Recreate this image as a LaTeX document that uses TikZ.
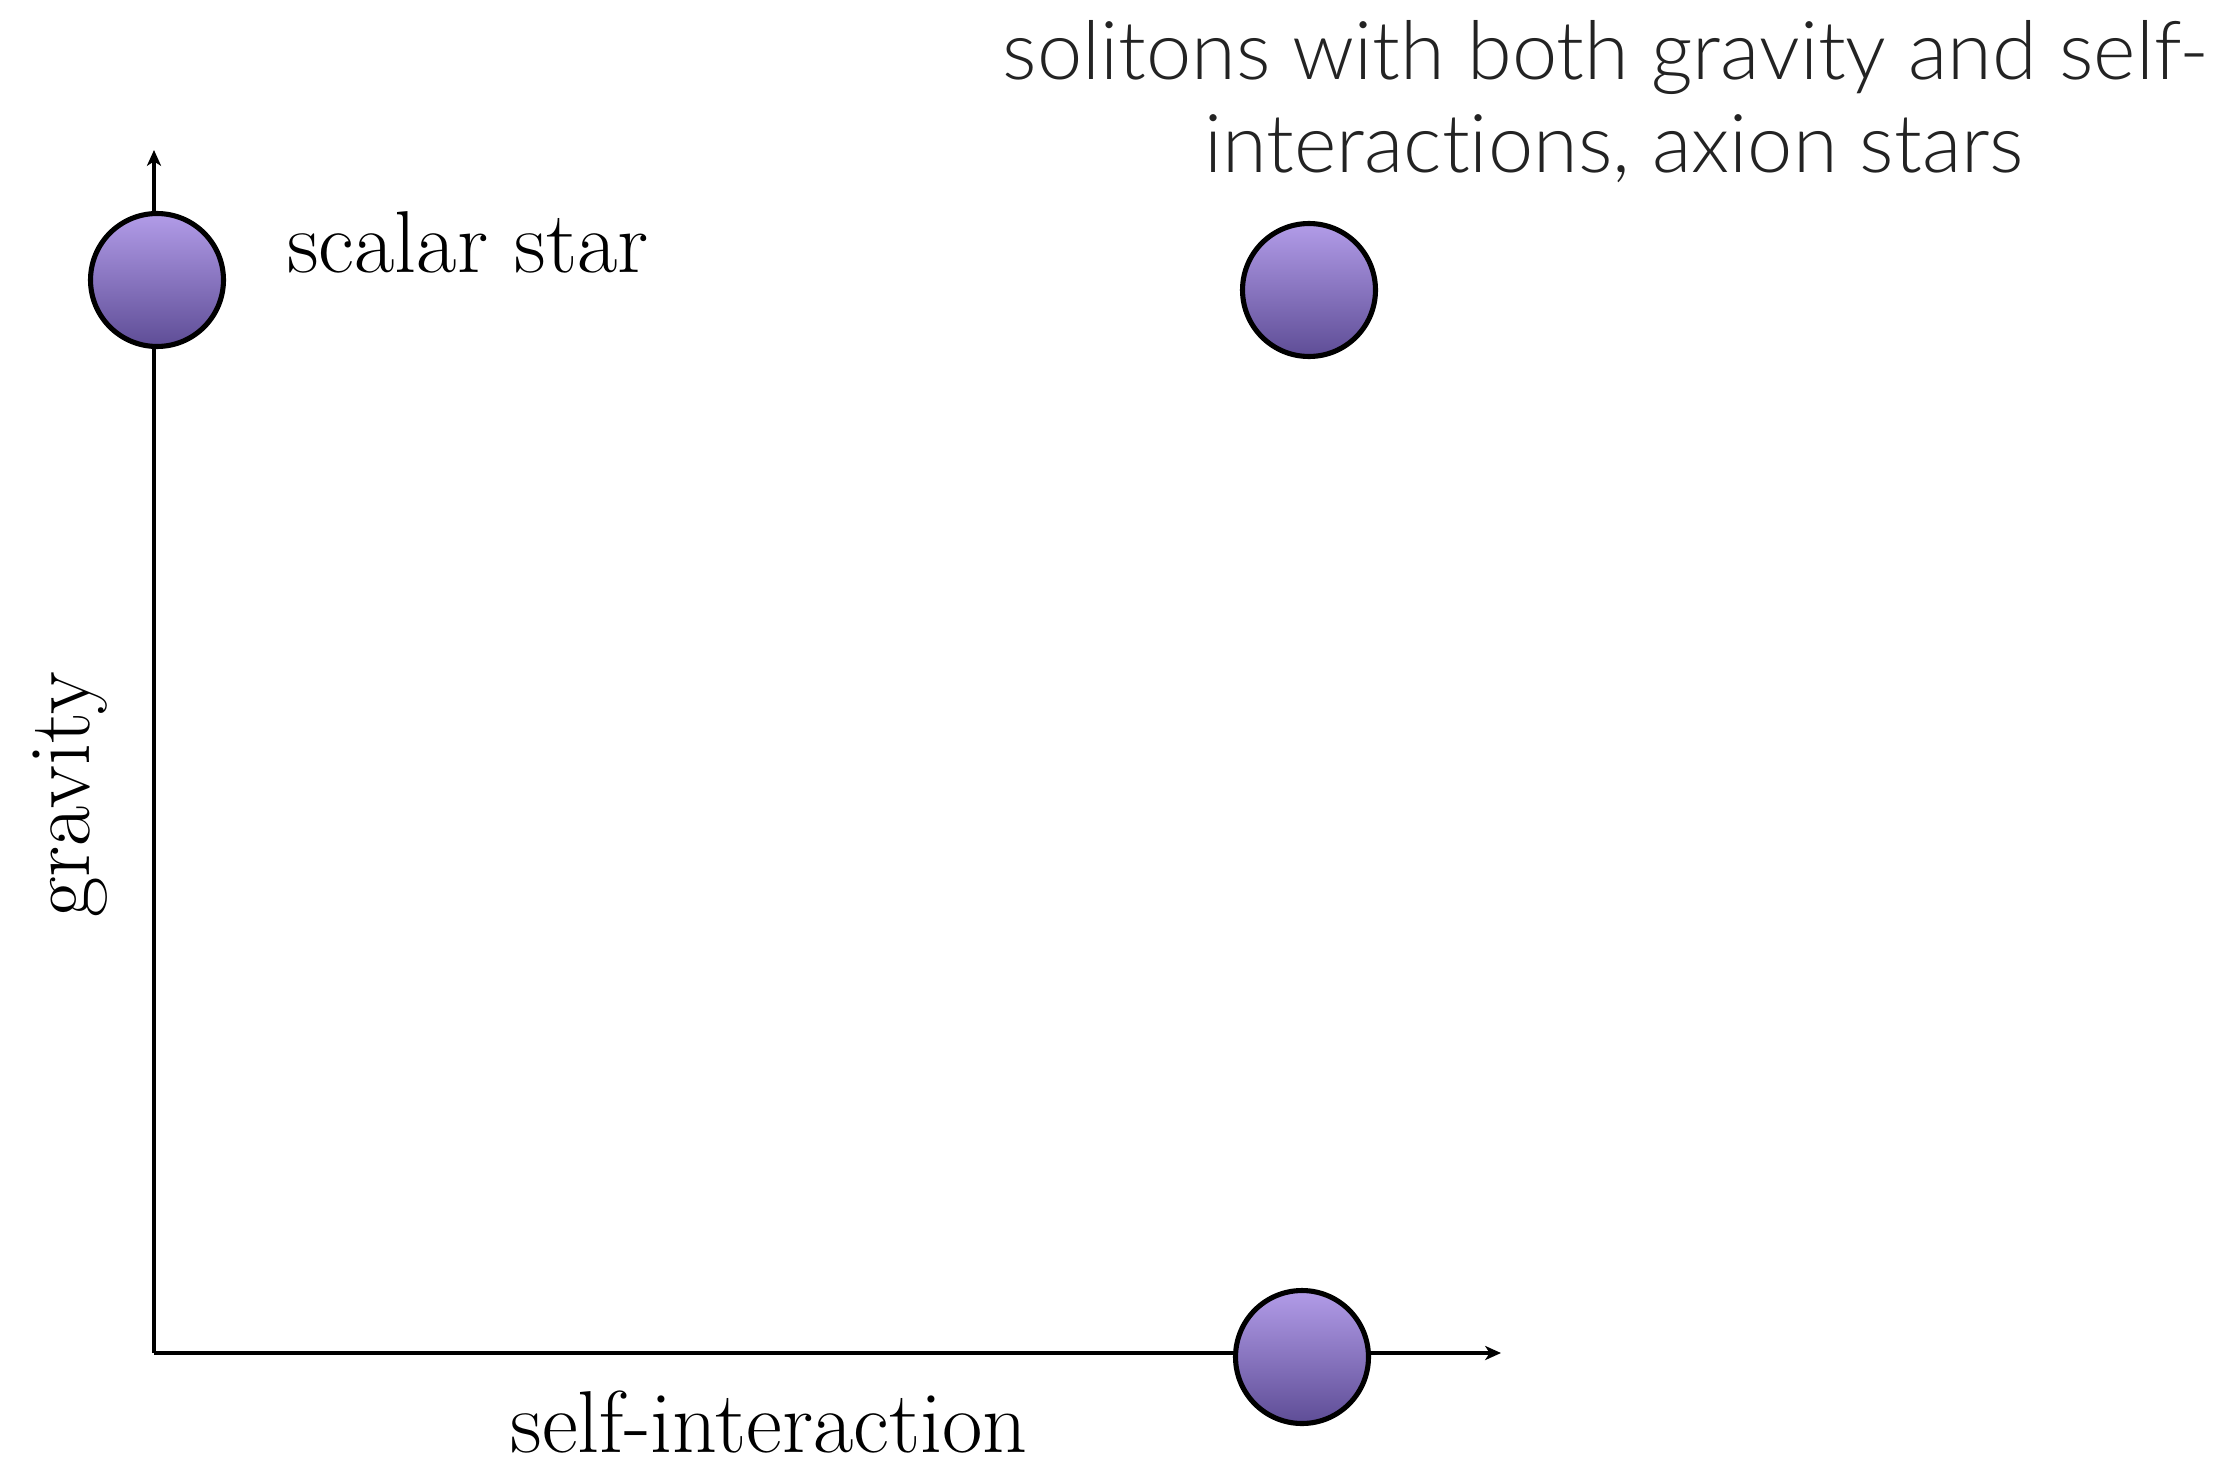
\documentclass[tikz,border=0pt]{standalone}
\usepackage{fontspec}
\usetikzlibrary{arrows.meta}
\newfontfamily\titlefont{Lato Light}[Ligatures=NoCommon]
\definecolor{startop}{RGB}{178,156,232}
\definecolor{starbot}{RGB}{94,77,150}
\definecolor{titlegray}{RGB}{35,35,35}
\begin{document}
\begin{tikzpicture}[x=0.02cm,y=-0.02cm,
  axisline/.style={line width=2.4pt,-{Stealth[length=9pt,width=8pt,inset=2.5pt]}},
  starball/.style={circle,draw=black,line width=2.9pt,minimum size=2.66cm,inner sep=0pt,
    top color=startop,bottom color=starbot},
  cmlabel/.style={font=\fontsize{50}{60}\selectfont,inner sep=0pt},
  titlelabel/.style={font=\titlefont\fontsize{46.2}{55}\selectfont,text=titlegray,inner sep=0pt,anchor=base}]
\useasboundingbox (0,0) rectangle (2238,1470);
\fill[white] (0,0) rectangle (2238,1470);
% axes
\coordinate (origin) at (154,1353);
\coordinate (ytip) at (154,150);
\coordinate (xtip) at (1501,1353);
\draw[axisline] (origin) -- (ytip);
\draw[axisline] (origin) -- (xtip);
% stars
\node[starball] (scalar) at (157,280) {};
\node[starball] (both) at (1309,290) {};
\node[starball] (selfint) at (1302,1357) {};
% labels
\node[cmlabel,anchor=base west] (scalarlbl) at (287,272) {scalar star};
\node[cmlabel,anchor=base,rotate=90] (gravlbl) at (89,795) {gravity};
\node[cmlabel,anchor=base] (selflbl) at (769,1452) {self-interaction};
\node[titlelabel] (title1) at (1606,80) {solitons with both gravity and self-};
\node[titlelabel] (title2) at (1614,173) {interactions, axion stars};
\end{tikzpicture}
\end{document}
